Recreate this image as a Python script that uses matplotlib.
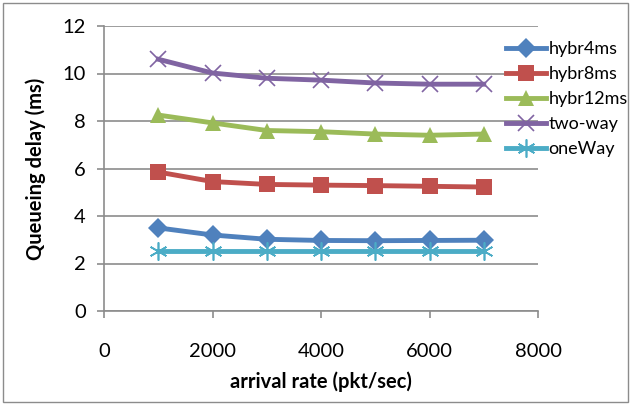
import matplotlib
matplotlib.use("Agg")
import matplotlib.pyplot as plt
from matplotlib.patches import Rectangle

plt.rcParams['font.family'] = ['Lato', 'DejaVu Sans']

rates = [1000, 2000, 3000, 4000, 5000, 6000, 7000]
hybr4ms = [3.5, 3.2, 3.02, 2.97, 2.96, 2.97, 2.98]
hybr8ms = [5.85, 5.45, 5.33, 5.3, 5.28, 5.25, 5.22]
hybr12ms = [8.25, 7.92, 7.6, 7.55, 7.45, 7.4, 7.45]
two_way = [10.6, 10.02, 9.8, 9.72, 9.6, 9.55, 9.55]
one_way = [2.52, 2.52, 2.52, 2.52, 2.52, 2.52, 2.52]
xticks = [0, 2000, 4000, 6000, 8000]
yticks = [0, 2, 4, 6, 8, 10, 12]

fig = plt.figure(figsize=(6.32, 4.05), dpi=100)
ax = fig.add_axes([104/632, 1-311/405, (538-104)/632, (311-26)/405])

series = [
    ("hybr4ms", hybr4ms, "#4F81BD", "D", 10),
    ("hybr8ms", hybr8ms, "#C0504D", "s", 11),
    ("hybr12ms", hybr12ms, "#9BBB59", "^", 12),
    ("two-way", two_way, "#8064A2", "x", 12),
    ("oneWay", one_way, "#4BACC6", (6, 2, 0), 13),
]
for name, vals, col, m, ms in series:
    kw = dict(markeredgewidth=1.2) if m in ("x",) or isinstance(m, tuple) else dict(markeredgewidth=0)
    ax.plot(rates, vals, color=col, lw=3.5, marker=m, ms=ms, mfc=col, mec=col,
            label=name, solid_joinstyle='round', **kw)

ax.set_xlim(0, 8000)
ax.set_ylim(0, 12)
ax.set_xticks(xticks)
ax.set_yticks(yticks)
ax.grid(axis='y', color='#8c8c8c', lw=1.2)
ax.set_axisbelow(True)
for s in ['top', 'right']:
    ax.spines[s].set_visible(False)
for s in ['left', 'bottom']:
    ax.spines[s].set_color('#8c8c8c')
    ax.spines[s].set_linewidth(1.2)
ax.tick_params(colors='#8c8c8c', labelcolor='black', labelsize=14.5, length=5, width=1.2)
ax.tick_params(axis='x', pad=18)
ax.tick_params(axis='y', pad=8)
ax.set_xlabel('arrival rate (pkt/sec)', fontsize=14.5, fontweight='bold', labelpad=8)
ax.set_ylabel('Queueing delay (ms)', fontsize=14.5, fontweight='bold', labelpad=12)

leg = fig.legend(loc='upper left', bbox_to_anchor=(499/632, 1-34/405), frameon=False,
                 fontsize=13, handlelength=2.2, handletextpad=0.15, labelspacing=0.5,
                 borderaxespad=0)

fig.patches.append(Rectangle((3/632, 3/405), 625/632, 399/405, transform=fig.transFigure,
                             fill=False, edgecolor='#8c8c8c', lw=1))

fig.savefig('out.png', dpi=100)
